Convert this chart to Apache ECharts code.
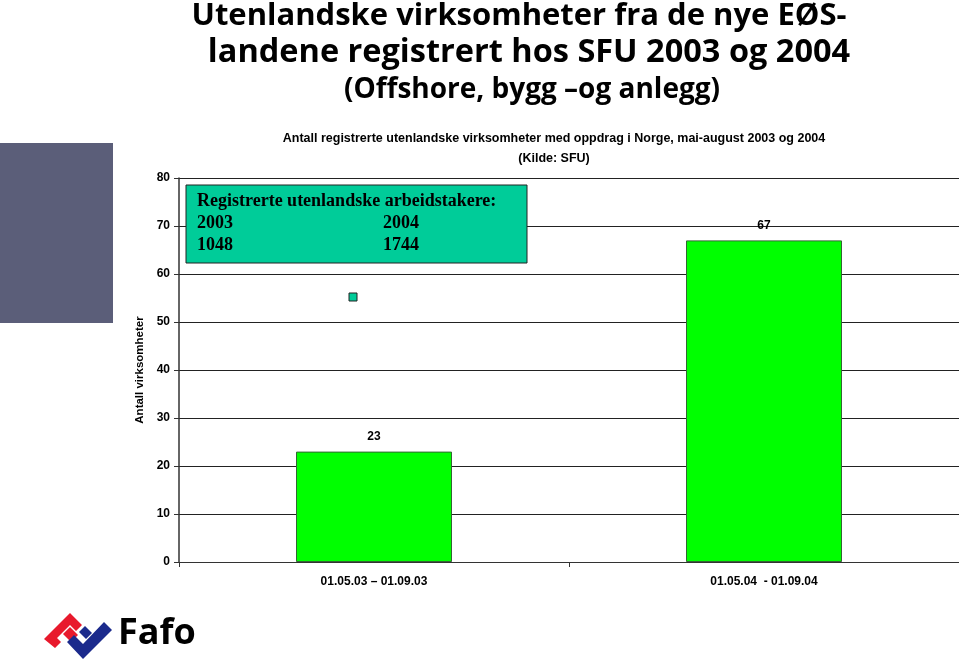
<!DOCTYPE html>
<html>
<head>
<meta charset="utf-8">
<script src="https://cdn.jsdelivr.net/npm/echarts@6/dist/echarts.min.js"></script>
<style>html,body{margin:0;padding:0;background:#fff}#c{width:959px;height:662px}</style>
</head>
<body>
<div id="c"></div>
<script>
var categories = ['01.05.03 \u2013 01.09.03', '01.05.04  - 01.09.04'];
var values = [23, 67];
var yTicks = [0, 10, 20, 30, 40, 50, 60, 70, 80];
var boxLines = ['Registrerte utenlandske arbeidstakere:', '2003', '2004', '1048', '1744'];

var chart = echarts.init(document.getElementById('c'));
var titleFont = '"Open Sans", "Liberation Sans", sans-serif';
var armFont = '"Liberation Sans", Arial, sans-serif';
var serif = '"Liberation Serif", "Times New Roman", serif';

chart.setOption({
  animation: false,
  backgroundColor: '#fff',
  title: [
    {text: 'Utenlandske virksomheter fra de nye EØS-', left: 514, top: -4, textAlign: 'center',
     textStyle: {fontFamily: titleFont, fontWeight: 'bold', fontSize: 31, color: '#000'}},
    {text: 'landene registrert hos SFU 2003 og 2004', left: 524, top: 31, textAlign: 'center',
     textStyle: {fontFamily: titleFont, fontWeight: 'bold', fontSize: 32.5, color: '#000'}},
    {text: '(Offshore, bygg \u2013og anlegg)', left: 527, top: 71, textAlign: 'center',
     textStyle: {fontFamily: titleFont, fontWeight: 'bold', fontSize: 28, color: '#000'}},
    {text: 'Antall registrerte utenlandske virksomheter med oppdrag i Norge, mai-august 2003 og 2004\n(Kilde: SFU)',
     left: 549, top: 124, textAlign: 'center',
     textStyle: {fontFamily: armFont, fontWeight: 'bold', fontSize: 12.5, lineHeight: 20, color: '#000'}}
  ],
  grid: {left: 179, right: 0, top: 178, bottom: 100, containLabel: false},
  xAxis: {
    type: 'category', data: categories,
    axisLine: {lineStyle: {color: '#333', width: 1}},
    axisTick: {show: true, length: 5, lineStyle: {color: '#333'}},
    axisLabel: {fontFamily: armFont, fontWeight: 'bold', fontSize: 12, color: '#000', margin: 14}
  },
  yAxis: {
    type: 'value', min: 0, max: 80, interval: 10,
    name: 'Antall virksomheter', nameLocation: 'middle', nameGap: 29, nameRotate: 90,
    nameTextStyle: {fontFamily: armFont, fontWeight: 'bold', fontSize: 11.5, color: '#000'},
    axisLine: {show: true, lineStyle: {color: '#333', width: 1.5}},
    axisTick: {show: true, length: 5, lineStyle: {color: '#333'}},
    axisLabel: {fontFamily: armFont, fontWeight: 'bold', fontSize: 12, color: '#000', margin: 9,
      formatter: function (v) { return yTicks.indexOf(v) >= 0 ? String(v) : ''; }},
    splitLine: {show: true, lineStyle: {color: '#222', width: 1}}
  },
  series: [{
    type: 'bar', data: values, barWidth: '40%',
    itemStyle: {color: '#00FF00', borderColor: '#336633', borderWidth: 1},
    label: {show: true, position: 'top', distance: 9, fontFamily: armFont, fontWeight: 'bold', fontSize: 12, color: '#000'}
  }],
  graphic: [
    {type: 'rect', shape: {x: 0, y: 143, width: 113, height: 180}, style: {fill: '#5B5E79'}},
    {type: 'rect', shape: {x: 186, y: 185, width: 341, height: 78}, style: {fill: '#00CC99', stroke: '#222', lineWidth: 1}, z: 10},
    {type: 'text', left: 197, top: 192, z: 11, style: {text: boxLines[0], font: 'bold 18px ' + serif, fill: '#000'}},
    {type: 'text', left: 197, top: 214, z: 11, style: {text: boxLines[1], font: 'bold 18px ' + serif, fill: '#000'}},
    {type: 'text', left: 383, top: 214, z: 11, style: {text: boxLines[2], font: 'bold 18px ' + serif, fill: '#000'}},
    {type: 'text', left: 197, top: 236, z: 11, style: {text: boxLines[3], font: 'bold 18px ' + serif, fill: '#000'}},
    {type: 'text', left: 383, top: 236, z: 11, style: {text: boxLines[4], font: 'bold 18px ' + serif, fill: '#000'}},
    {type: 'rect', shape: {x: 349, y: 293, width: 8, height: 8}, style: {fill: '#00CC99', stroke: '#222', lineWidth: 1}, z: 10},
    // Fafo logo
    {type: 'polygon', shape: {points: [[44,639],[70,613],[82,625],[76,631],[70,625],[57,638],[61,642],[55,648]]}, style: {fill: '#E8192C'}},
    {type: 'polygon', shape: {points: [[63,634],[70,627],[78,635],[71,642]]}, style: {fill: '#E8192C'}},
    {type: 'polygon', shape: {points: [[67,642],[74,635],[83,644],[104,622],[112,630],[83,659]]}, style: {fill: '#1B2A8C'}},
    {type: 'polygon', shape: {points: [[79,632],[85,626],[92,633],[86,639]]}, style: {fill: '#1B2A8C'}},
    {type: 'text', left: 118, top: 616, style: {text: 'Fafo', font: 'bold 36px ' + titleFont, fill: '#000'}}
  ]
});
</script>
</body>
</html>
